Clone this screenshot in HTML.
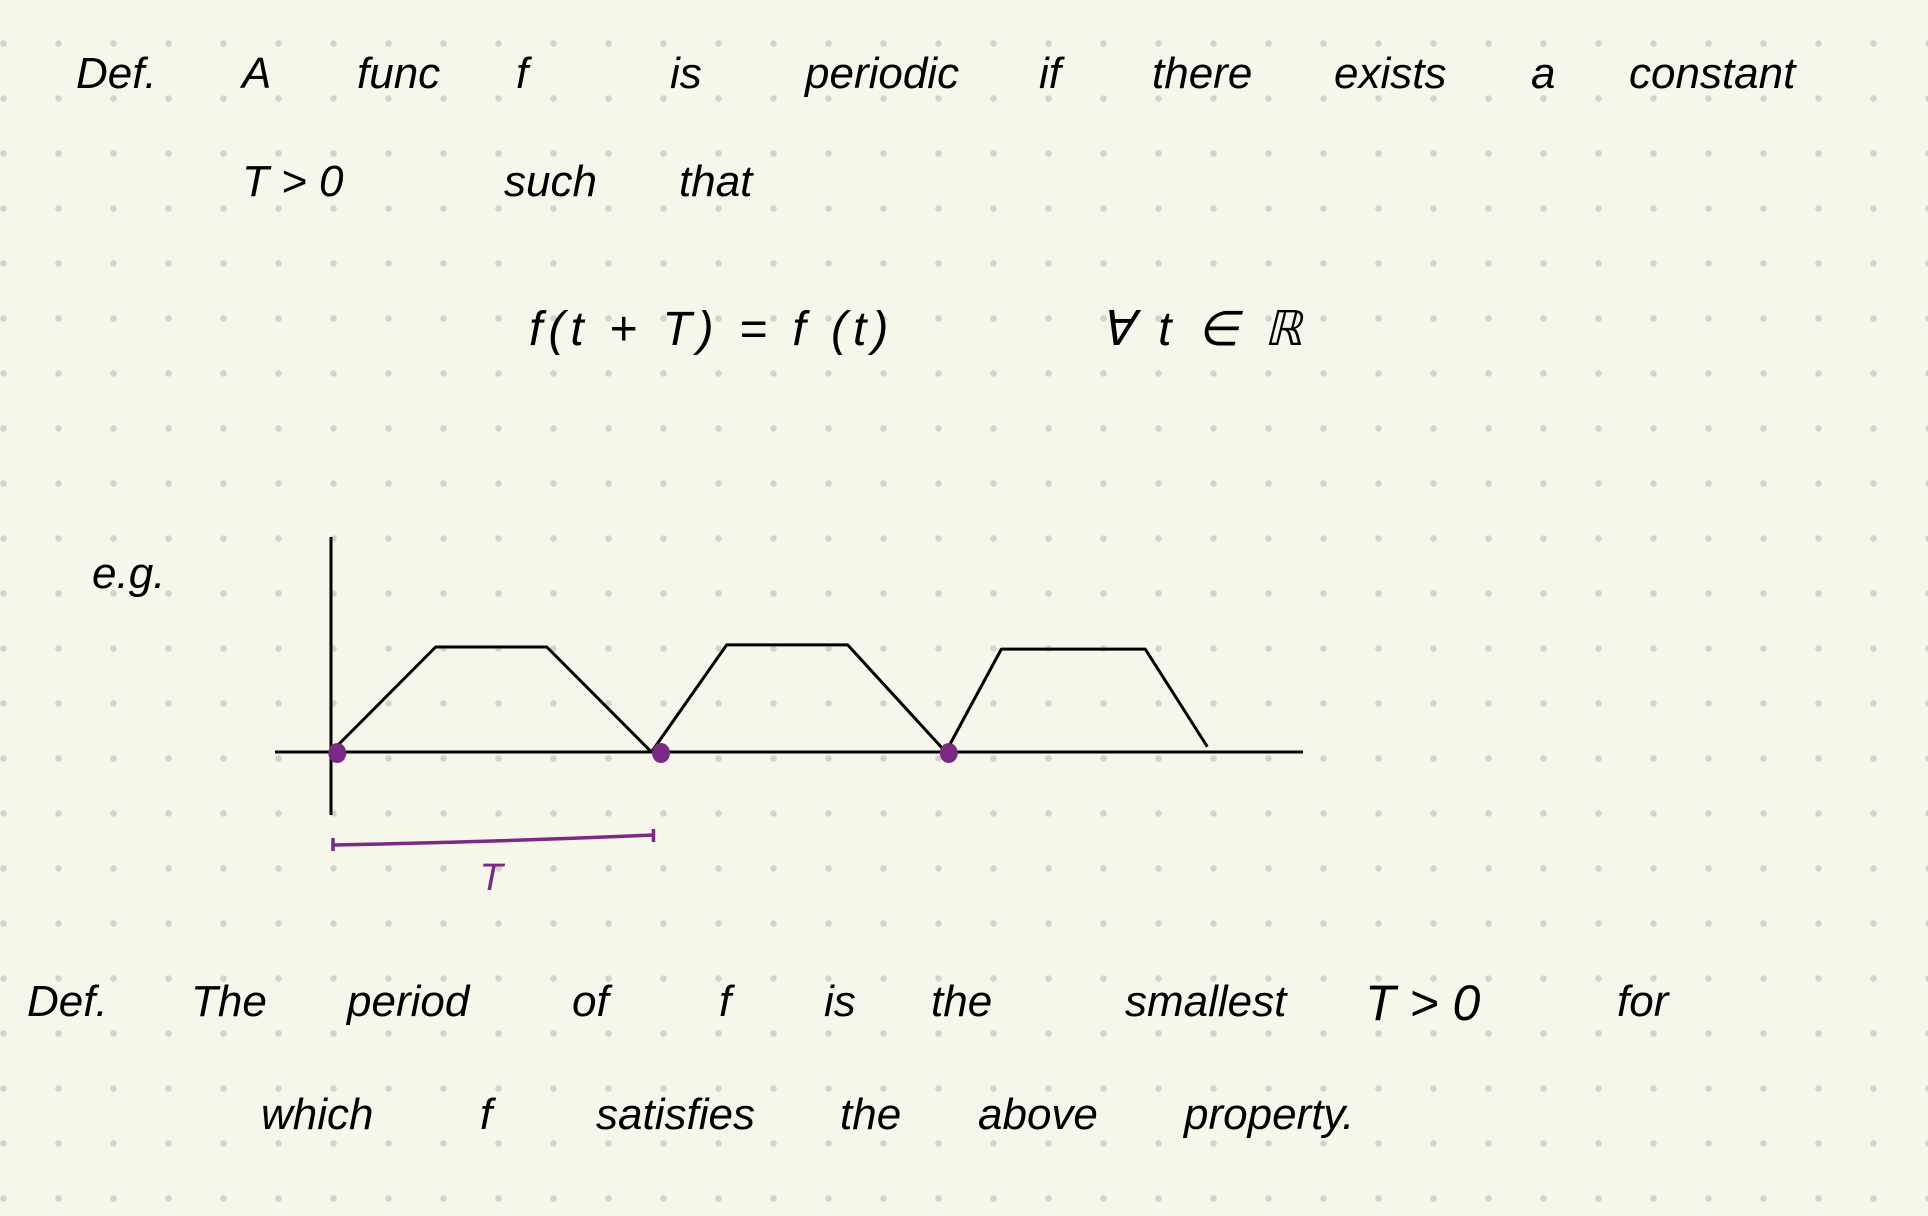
<!DOCTYPE html>
<html><head><meta charset="utf-8"><style>
html,body{margin:0;padding:0;background:#f7f6ea;}
#c{position:relative;width:1928px;height:1216px;overflow:hidden;
background-color:#f7f6ea;
background-image:radial-gradient(circle,#d3d3cb 3px,transparent 3.5px);
background-size:55px 55px;background-position:-24px 16px;}
.t{position:absolute;font-family:"Liberation Sans",sans-serif;font-size:44px;color:#000;white-space:nowrap;line-height:1;font-style:italic;}
svg{position:absolute;left:0;top:0;}
</style></head><body>
<div id="c">
<span class="t" style="left:76px;top:52px">Def.</span>
<span class="t" style="left:242px;top:52px">A</span>
<span class="t" style="left:357px;top:52px">func</span>
<span class="t" style="left:516px;top:52px">f</span>
<span class="t" style="left:670px;top:52px">is</span>
<span class="t" style="left:805px;top:52px">periodic</span>
<span class="t" style="left:1039px;top:52px">if</span>
<span class="t" style="left:1152px;top:52px">there</span>
<span class="t" style="left:1334px;top:52px">exists</span>
<span class="t" style="left:1531px;top:52px">a</span>
<span class="t" style="left:1629px;top:52px">constant</span>
<span class="t" style="left:242px;top:160px">T &gt; 0</span>
<span class="t" style="left:504px;top:160px">such</span>
<span class="t" style="left:679px;top:160px">that</span>
<span class="t" style="left:529px;top:306px;font-size:48px;letter-spacing:6px">f(t + T) = f (t)</span>
<span class="t" style="left:1100px;top:306px;font-size:48px;letter-spacing:6px">∀ t ∈ ℝ</span>
<span class="t" style="left:92px;top:552px">e.g.</span>
<span class="t" style="left:27px;top:980px">Def.</span>
<span class="t" style="left:191px;top:980px">The</span>
<span class="t" style="left:347px;top:980px">period</span>
<span class="t" style="left:572px;top:980px">of</span>
<span class="t" style="left:719px;top:980px">f</span>
<span class="t" style="left:824px;top:980px">is</span>
<span class="t" style="left:931px;top:980px">the</span>
<span class="t" style="left:1125px;top:980px">smallest</span>
<span class="t" style="left:1365px;top:978px;font-size:50px">T &gt; 0</span>
<span class="t" style="left:1617px;top:980px">for</span>
<span class="t" style="left:261px;top:1093px">which</span>
<span class="t" style="left:480px;top:1093px">f</span>
<span class="t" style="left:596px;top:1093px">satisfies</span>
<span class="t" style="left:840px;top:1093px">the</span>
<span class="t" style="left:978px;top:1093px">above</span>
<span class="t" style="left:1184px;top:1093px">property.</span>
<svg id="g" width="1928" height="1216"></svg>
</div>
<script>
// function vertices in data units (t, f(t)); period ≈ 1
const tVals = [0, 0.32, 0.66, 0.98, 1.21, 1.58, 1.88, 2.05, 2.49, 2.68];
const fVals = [0, 1.0, 1.0, 0, 1.02, 1.02, 0, 0.98, 0.98, 0.05];
const markT = [0.01, 1.0, 1.88];
const periodT = 0.98;
const X0 = 331, XS = 327, Y0 = 752, YS = 105;
const xs = t => X0 + t * XS;
const ys = v => Y0 - v * YS;
const NS = "http://www.w3.org/2000/svg";
const g = document.getElementById('g');
function mk(tag, attrs){const e=document.createElementNS(NS,tag);for(const k in attrs)e.setAttribute(k,attrs[k]);g.appendChild(e);return e;}
let e;
e = mk('line',{x1:331,y1:537,x2:331,y2:815,stroke:'#000','stroke-width':3});


e = mk('line',{x1:275,y1:752,x2:1303,y2:752,stroke:'#000','stroke-width':3});


e = mk('polyline',{points:tVals.map((t,i)=>xs(t)+','+ys(fVals[i])).join(' '),fill:'none',stroke:'#000','stroke-width':3,'stroke-linejoin':'round'});


markT.forEach(t=>{
  const d = mk('ellipse',{cx:xs(t)+3,cy:Y0+1,rx:9,ry:10,fill:'#7a2a85'});
  
  
});
const b0 = xs(0)+2, b1 = xs(periodT)+2;
e = mk('path',{d:`M${b0},845 Q${(b0+b1)/2},842 ${b1},835 M${b0},838 L${b0},851 M${b1},829 L${b1},842`,fill:'none',stroke:'#7a2a85','stroke-width':3.5});


e = mk('text',{x:(b0+b1)/2-2,y:890,'font-family':'Liberation Sans, sans-serif','font-size':38,'font-style':'italic',fill:'#7a2a85','text-anchor':'middle'});
e.textContent='T';


</script>
</body></html>
